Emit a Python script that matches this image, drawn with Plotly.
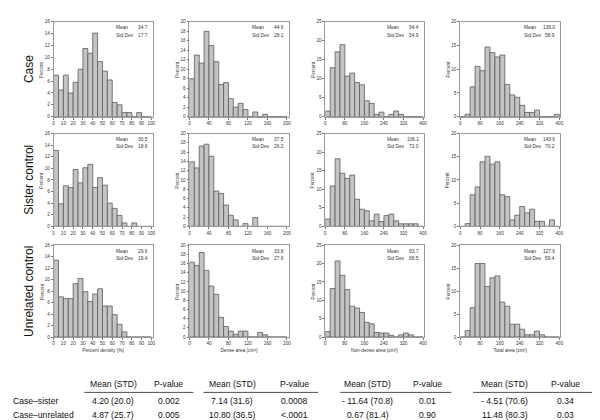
import plotly.graph_objects as go
import numpy as np

# ---------------- data ----------------
row_labels = ["Case", "Sister control", "Unrelated control"]
x_titles = ["Percent density (%)", "Dense area (cm²)", "Non-dense area (cm²)", "Total area (cm²)"]

bin_width = [5, 10, 20, 20]
x_max = [100, 200, 400, 400]
x_dtick = [10, 40, 80, 80]
y_max = [16, 20, 25, 20]
y_dtick = [2, 2, 5, 5]

# percent per bin, rows: case, sister, unrelated
density_case = [7.0, 4.5, 7.0, 4.0, 5.8, 8.0, 11.5, 10.7, 14.1, 9.3, 7.7, 6.2, 2.4, 2.0, 0.7, 0.7, 0, 0.7, 0, 0]
density_sister = [13.1, 3.9, 7.0, 6.7, 9.8, 7.5, 10.1, 10.7, 6.7, 8.4, 7.1, 4.0, 3.1, 1.9, 0.6, 0, 0.6, 0, 0, 0]
density_unrel = [13.4, 7.0, 6.7, 6.7, 9.3, 10.2, 7.9, 6.2, 7.5, 8.4, 5.4, 5.4, 3.9, 2.2, 0.9, 0, 0, 0, 0, 0]

dense_case = [8.0, 13.0, 11.3, 18.0, 15.0, 11.6, 6.8, 7.2, 3.8, 2.0, 2.8, 1.5, 0, 1.0, 0, 0.5, 0, 0, 0, 0]
dense_sister = [13.9, 12.6, 17.3, 17.7, 15.1, 7.6, 7.1, 4.6, 2.4, 1.4, 0, 0.6, 0, 1.9, 0, 0, 0, 0, 0, 0]
dense_unrel = [16.3, 15.6, 18.4, 14.5, 11.1, 9.3, 4.3, 2.3, 1.3, 0.6, 1.3, 1.3, 0, 0, 1.0, 0.5, 0, 0, 0, 0]

nondense_case = [1.5, 12.9, 17.1, 19.0, 10.7, 11.5, 9.0, 8.4, 4.2, 3.5, 0.6, 1.2, 0, 0.6, 1.5, 0.6, 0, 0, 0, 0]
nondense_sister = [2.0, 10.9, 18.2, 14.3, 12.9, 13.8, 7.3, 4.6, 4.2, 1.5, 3.3, 1.3, 2.9, 3.3, 1.5, 0.7, 0.7, 0.7, 0.7, 0]
nondense_unrel = [1.5, 13.2, 20.7, 16.8, 12.9, 8.4, 7.9, 6.7, 4.0, 3.6, 1.25, 1.1, 1.1, 0.45, 0, 0.6, 1.1, 0.6, 0, 0]

total_case = [0, 0.5, 6.3, 10.6, 9.7, 14.7, 13.5, 12.6, 13.0, 6.8, 4.6, 4.1, 2.4, 0.9, 0.9, 1.4, 0, 0, 0, 0.5]
total_sister = [0, 0.6, 6.8, 8.5, 13.9, 15.1, 13.4, 13.9, 6.8, 6.4, 1.4, 2.4, 4.3, 2.9, 3.7, 1.1, 1.1, 0, 1.4, 0]
total_unrel = [0, 1.4, 6.4, 16.0, 16.0, 11.0, 12.9, 13.3, 7.6, 6.7, 2.8, 2.8, 1.7, 0.5, 0.5, 1.3, 0.5, 0, 0, 0]

density_mean = ["34.7", "30.5", "29.6"]
density_sd = ["17.7", "18.6", "19.4"]
dense_mean = ["44.6", "37.5", "33.8"]
dense_sd = ["28.1", "26.2", "27.6"]
nondense_mean = ["94.4", "106.1", "93.7"]
nondense_sd = ["54.9", "72.0", "68.5"]
total_mean = ["139.0", "143.6", "127.6"]
total_sd = ["58.9", "70.2", "59.4"]

table_rows = ["Case–sister", "Case–unrelated"]
diff_density = ["4.20 (20.0)", "4.87 (25.7)"]
p_density = ["0.002", "0.005"]
diff_dense = ["7.14 (31.6)", "10.80 (36.5)"]
p_dense = ["0.0008", "<.0001"]
diff_nondense = ["- 11.64 (70.8)", "0.67 (81.4)"]
p_nondense = ["0.01", "0.90"]
diff_total = ["- 4.51 (70.6)", "11.48 (80.3)"]
p_total = ["0.34", "0.03"]
table_header = ["Mean (STD)", "P-value"]

# ---------------- layout helpers ----------------
W, H = 600, 420
col_px = [(45, 145), (182, 282), (319, 418), (455, 556)]
row_px = [(12, 108), (125, 219), (238, 331)]
x_pad = [1.5, 3.5, 2, 4]
FONT = "Liberation Sans, Arial, sans-serif"

heights = [
    [density_case, dense_case, nondense_case, total_case],
    [density_sister, dense_sister, nondense_sister, total_sister],
    [density_unrel, dense_unrel, nondense_unrel, total_unrel],
]
means = [density_mean, dense_mean, nondense_mean, total_mean]
sds = [density_sd, dense_sd, nondense_sd, total_sd]

fig = go.Figure()
layout = dict(
    width=W, height=H, margin=dict(l=0, r=0, t=0, b=0),
    paper_bgcolor="white", plot_bgcolor="white", showlegend=False,
    font=dict(family=FONT, color="#222"),
)
annotations = []
shapes = []

def px_x(p):
    return p / W

def px_y(p):
    return 1 - p / H

for r in range(3):
    for c in range(4):
        k = r * 4 + c + 1
        xa = "x" if k == 1 else f"x{k}"
        ya = "y" if k == 1 else f"y{k}"
        vals = heights[r][c]
        bw = bin_width[c]
        centers = np.arange(len(vals)) * bw + bw / 2
        fig.add_trace(go.Bar(
            x=centers, y=vals, width=bw, xaxis=xa, yaxis=ya,
            marker=dict(color="#c4c4c4", line=dict(color="#5a5a5a", width=0.8)),
            hoverinfo="skip",
        ))
        x0, x1 = col_px[c]
        y0, y1 = row_px[r]
        xkey = "xaxis" if k == 1 else f"xaxis{k}"
        ykey = "yaxis" if k == 1 else f"yaxis{k}"
        layout[xkey] = dict(
            domain=[px_x(x0), px_x(x1)], anchor=ya,
            range=[0, x_max[c] + x_pad[c]], tick0=0, dtick=x_dtick[c],
            ticks="outside", ticklen=2, tickwidth=0.6, tickcolor="#777",
            showline=True, linecolor="#999", linewidth=0.8, mirror=True,
            showgrid=False, zeroline=False,
            tickfont=dict(size=4.6, color="#333", family=FONT),
            title=dict(text=x_titles[c] if r == 2 else "", font=dict(size=4.8, color="#333", family=FONT), standoff=3),
        )
        layout[ykey] = dict(
            domain=[px_y(y1), px_y(y0)], anchor=xa,
            range=[0, y_max[c]], tick0=0, dtick=y_dtick[c],
            ticks="outside", ticklen=2, tickwidth=0.6, tickcolor="#777",
            showline=True, linecolor="#999", linewidth=0.8, mirror=True,
            showgrid=False, zeroline=False,
            tickfont=dict(size=4.6, color="#333", family=FONT),
        )
        # Percent label
        annotations.append(dict(
            x=px_x(x0 - 12), y=px_y((y0 + y1) / 2), xref="paper", yref="paper",
            text="Percent", textangle=-90, showarrow=False,
            font=dict(size=4.6, color="#333", family=FONT), xanchor="center", yanchor="middle",
        ))
        # stats
        for j, (lab, v) in enumerate([("Mean", means[c][r]), ("Std Dev", sds[c][r])]):
            yy = px_y(y0 + 6 + j * 7.5)
            annotations.append(dict(
                x=px_x(x1 - 39), y=yy, xref="paper", yref="paper", text=lab,
                showarrow=False, xanchor="left", yanchor="middle",
                font=dict(size=4.8, color="#333", family=FONT),
            ))
            annotations.append(dict(
                x=px_x(x1 - 3), y=yy, xref="paper", yref="paper", text=v,
                showarrow=False, xanchor="right", yanchor="middle",
                font=dict(size=4.8, color="#333", family=FONT),
            ))
    annotations.append(dict(
        x=px_x(20), y=px_y((row_px[r][0] + row_px[r][1]) / 2), xref="paper", yref="paper",
        text=row_labels[r], textangle=-90, showarrow=False,
        font=dict(size=12, color="#111", family=FONT), xanchor="center", yanchor="middle",
    ))

# ---------------- table ----------------
mean_cx = [105, 225, 362, 500]
p_cx = [161, 288, 422, 561]
diffs = [diff_density, diff_dense, diff_nondense, diff_total]
pvals = [p_density, p_dense, p_nondense, p_total]
header_y = 378
row_y = [396, 410]
TF = dict(size=8.6, color="#111", family=FONT)
for g in range(4):
    annotations.append(dict(x=px_x(mean_cx[g]), y=px_y(header_y), xref="paper", yref="paper",
                            text=table_header[0], showarrow=False, xanchor="center", yanchor="middle", font=TF))
    annotations.append(dict(x=px_x(p_cx[g]), y=px_y(header_y), xref="paper", yref="paper",
                            text=table_header[1], showarrow=False, xanchor="center", yanchor="middle", font=TF))
    for i in range(2):
        annotations.append(dict(x=px_x(mean_cx[g]), y=px_y(row_y[i]), xref="paper", yref="paper",
                                text=diffs[g][i], showarrow=False, xanchor="center", yanchor="middle", font=TF))
        annotations.append(dict(x=px_x(p_cx[g]), y=px_y(row_y[i]), xref="paper", yref="paper",
                                text=pvals[g][i], showarrow=False, xanchor="center", yanchor="middle", font=TF))
for i in range(2):
    annotations.append(dict(x=px_x(2), y=px_y(row_y[i]), xref="paper", yref="paper",
                            text=table_rows[i], showarrow=False, xanchor="left", yanchor="middle", font=TF))

line_segs = [(76, 186), (196, 312), (334, 446), (468, 590)]
for a, b in line_segs:
    shapes.append(dict(type="line", xref="paper", yref="paper", x0=px_x(a), x1=px_x(b),
                       y0=px_y(387), y1=px_y(387), line=dict(color="#222", width=0.8)))

layout["annotations"] = annotations
layout["shapes"] = shapes
fig.update_layout(**layout)
fig.write_html("out.html")
